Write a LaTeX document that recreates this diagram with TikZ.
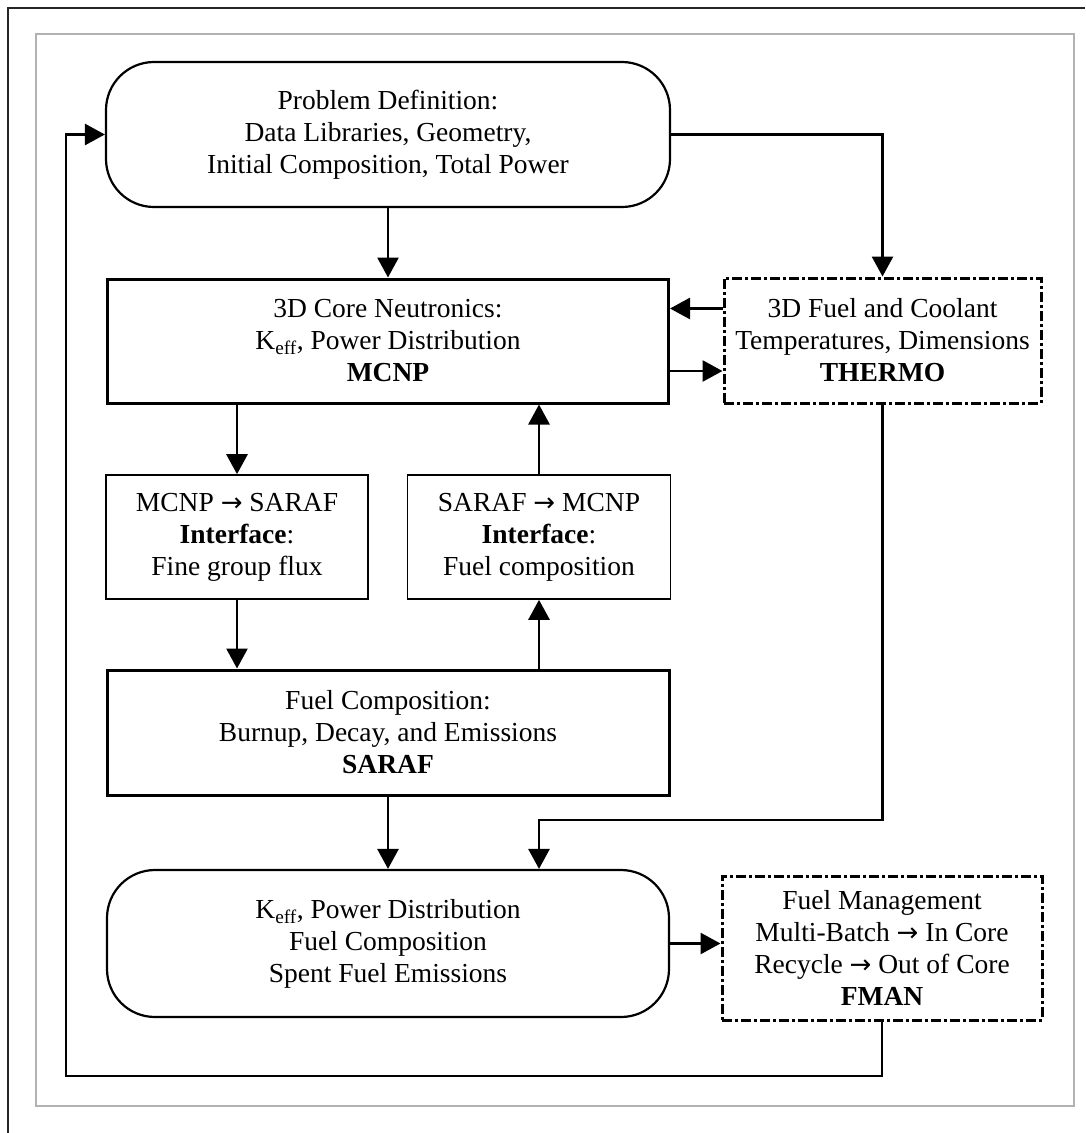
\documentclass[tikz,border=0pt]{standalone}
\usepackage{fontspec}
\setmainfont{Liberation Serif}
\newfontfamily\arrowfont{DejaVu Sans}
\usetikzlibrary{arrows.meta}
\newcommand{\ra}{{\arrowfont\fontsize{26}{32}\selectfont →}}
\newcommand{\keff}{K\textsubscript{eff}}
\begin{document}
\begin{tikzpicture}[x=1pt,y=-1pt,
  every node/.style={align=center,inner sep=0pt,font=\fontsize{27.5}{32}\selectfont},
  plainbox/.style={draw,line width=3pt,rectangle},
  thinbox/.style={draw,line width=1.6pt,rectangle},
  roundbox/.style={draw,line width=2.2pt,rectangle,rounded corners=48pt},
  dotbox/.style={draw,line width=3pt,rectangle,dash pattern=on 10pt off 3pt on 3pt off 3pt},
  arr/.style={line width=2.8pt,-{Triangle[length=20pt,width=21pt]}},
  conn/.style={line width=2.8pt}]
  \useasboundingbox (0,0) rectangle (1085,1133);
  % page frames
  \draw[line width=2.5pt,black!85] (8,1133) -- (8,8) -- (1085,8);
  \draw[line width=1.1pt,black!30] (36,34) rectangle (1074,1106);

  % boxes
  \node[roundbox,minimum width=564pt,minimum height=145pt] (top) at (388,134.5)
    {Problem Definition:\\Data Libraries, Geometry,\\Initial Composition, Total Power};
  \node[plainbox,minimum width=561pt,minimum height=124pt] (mcnp) at (388,341)
    {3D Core Neutronics:\\\keff, Power Distribution\\\textbf{MCNP}};
  \node[dotbox,minimum width=317pt,minimum height=125pt] (thermo) at (882.5,340.5)
    {3D Fuel and Coolant\\Temperatures, Dimensions\\\textbf{THERMO}};
  \node[thinbox,minimum width=262pt,minimum height=124pt] (ms) at (237,537)
    {MCNP \ra{} SARAF\\\textbf{Interface}:\\Fine group flux};
  \node[thinbox,minimum width=263pt,minimum height=124pt] (sm) at (539,537)
    {SARAF \ra{} MCNP\\\textbf{Interface}:\\Fuel composition};
  \node[plainbox,minimum width=562pt,minimum height=125pt] (saraf) at (388,732.5)
    {Fuel Composition:\\Burnup, Decay, and Emissions\\\textbf{SARAF}};
  \node[roundbox,minimum width=562pt,minimum height=147pt] (bottom) at (388,943.5)
    {\keff, Power Distribution\\Fuel Composition\\Spent Fuel Emissions};
  \node[dotbox,minimum width=320pt,minimum height=144pt] (fman) at (882,948)
    {Fuel Management\\Multi-Batch \ra{} In Core\\Recycle \ra{} Out of Core\\\textbf{FMAN}};

  % connectors
  \draw[arr] (top) -- (mcnp);
  \draw[arr] (top.east) -| (thermo.north);
  \draw[arr] ([yshift=32pt]thermo.west) -- ([yshift=32pt]thermo.west -| mcnp.east);
  \draw[arr] ([yshift=-30pt]mcnp.east) -- ([yshift=-30pt]mcnp.east -| thermo.west);
  \draw[arr] (mcnp.south -| ms.north) -- (ms.north);
  \draw[arr] (sm.north) -- (sm.north |- mcnp.south);
  \draw[arr] (ms.south) -- (ms.south |- saraf.north);
  \draw[arr] (saraf.north -| sm.south) -- (sm.south);
  \draw[arr] (saraf.south) -- (bottom.north);
  \coordinate (tj) at (539,820);
  \draw[arr] (thermo.south) |- (tj) -- (tj |- bottom.north);
  \draw[arr] (bottom.east) -- (bottom.east -| fman.west);
  \coordinate (lc) at (66,1076);
  \draw[arr] (fman.south) |- (lc) |- (top.west);
\end{tikzpicture}
\end{document}
